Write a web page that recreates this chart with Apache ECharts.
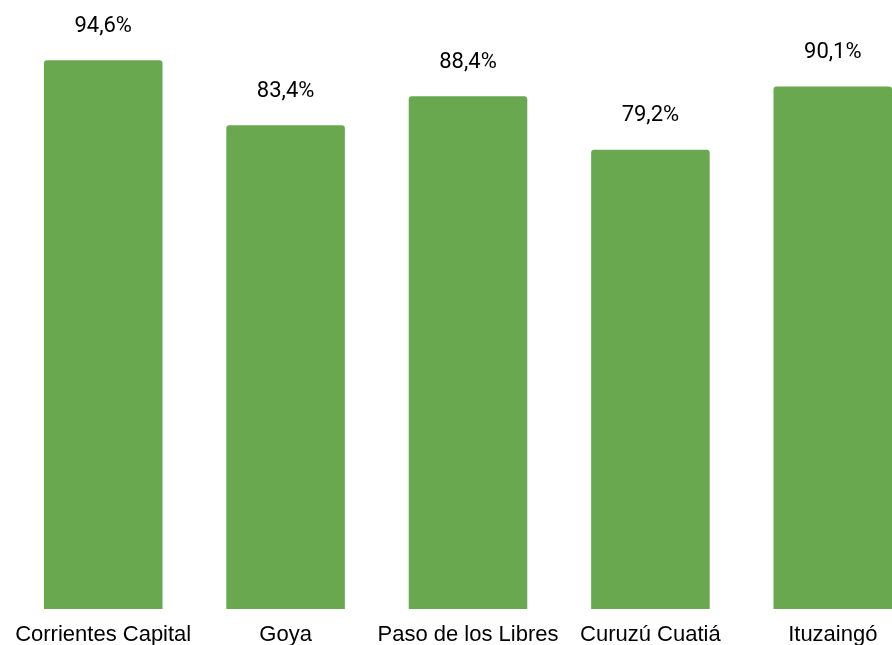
<!DOCTYPE html>
<html>
<head>
<meta charset="UTF-8">
<title>Chart</title>
<script src="https://cdn.jsdelivr.net/npm/echarts@6/dist/echarts.min.js"></script>
</head>
<body style="margin: 0">
  <div id="main" style="width: 892px; height: 645px;"></div>
  <script type="text/javascript">
    // datos
    var localidades = ['Corrientes Capital', 'Goya', 'Paso de los Libres', 'Curuzú Cuatiá', 'Ituzaingó'];
    var porcentajes = [94.6, 83.4, 88.4, 79.2, 90.1];

    var chart = echarts.init(document.getElementById('main'), null, { renderer: 'canvas' });

    var options = {
      animation: false,
      // el grafico original se sale un poco por la derecha
      grid: { left: 12, top: 29, width: 912, bottom: 36, containLabel: false, outerBoundsMode: 'none' },
      xAxis: {
        type: 'category',
        data: localidades,
        axisLine: { show: false },
        axisTick: { show: false },
        axisLabel: {
          color: '#000',
          fontFamily: 'Liberation Sans',
          fontSize: 22,
          margin: 15,
          interval: 0
        }
      },
      yAxis: {
        type: 'value',
        min: 0,
        max: 100,
        show: false,
        splitLine: { show: false }
      },
      series: [
        {
          type: 'bar',
          data: porcentajes,
          barWidth: '65%',
          itemStyle: {
            color: '#6aa84f',
            borderRadius: [3, 3, 0, 0]
          },
          label: {
            show: true,
            position: 'top',
            distance: 23,
            color: '#000',
            fontFamily: 'Roboto',
            fontSize: 22,
            formatter: function (p) {
              return p.value.toFixed(1).replace('.', ',') + '%';
            }
          }
        }
      ]
    };

    chart.setOption(options);
  </script>
</body>
</html>
